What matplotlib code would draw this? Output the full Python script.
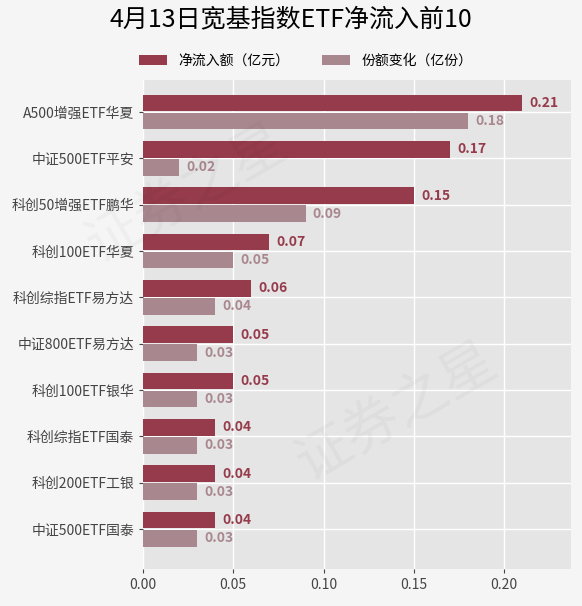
import matplotlib.pyplot as plt
import numpy as np

plt.rcParams['font.family'] = ['Noto Sans CJK SC', 'DejaVu Sans']

funds = ["A500增强ETF华夏", "中证500ETF平安", "科创50增强ETF鹏华", "科创100ETF华夏",
         "科创综指ETF易方达", "中证800ETF易方达", "科创100ETF银华", "科创综指ETF国泰",
         "科创200ETF工银", "中证500ETF国泰"]
net_inflow = [0.21, 0.17, 0.15, 0.07, 0.06, 0.05, 0.05, 0.04, 0.04, 0.04]
share_change = [0.18, 0.02, 0.09, 0.05, 0.04, 0.03, 0.03, 0.03, 0.03, 0.03]

c_dark = "#953b4b"
c_light = "#a9878f"

fig = plt.figure(figsize=(5.82, 6.06), dpi=100)
fig.patch.set_facecolor("#f5f5f5")
ax = fig.add_axes([143/582, 37/606, 428/582, 489/606])
ax.set_facecolor("#e5e5e5")

# faint watermark
for (x, y) in [(0.32, 0.68), (0.68, 0.32)]:
    fig.text(x, y, "证券之星", fontsize=40, color="#000000", alpha=0.03,
             rotation=30, ha="center", va="center", zorder=0)

y = np.arange(len(funds))
h = 0.36
off = 0.195
ax.barh(y - off, net_inflow, height=h, color=c_dark, label="净流入额（亿元）", zorder=3)
ax.barh(y + off, share_change, height=h, color=c_light, label="份额变化（亿份）", zorder=3)

for yi, v in zip(y, net_inflow):
    ax.text(v + 0.004, yi - off, "%.2f" % v, color=c_dark, fontsize=10, fontweight="bold",
            va="center", ha="left", zorder=4)
for yi, v in zip(y, share_change):
    ax.text(v + 0.004, yi + off, "%.2f" % v, color=c_light, fontsize=10, fontweight="bold",
            va="center", ha="left", zorder=4)

ax.set_yticks(y)
ax.set_yticklabels(funds, fontsize=10, color="#444444")
ax.set_xticks([0, 0.05, 0.10, 0.15, 0.20])
ax.set_xticklabels(["0.00", "0.05", "0.10", "0.15", "0.20"], fontsize=10, color="#444444")
ax.set_xlim(0, 0.237)
ax.set_ylim(9.86, -0.69)

ax.grid(color="white", linewidth=1, zorder=0)
ax.set_axisbelow(True)
for s in ax.spines.values():
    s.set_visible(False)
ax.tick_params(axis="both", length=3, color="#444444")

fig.suptitle("4月13日宽基指数ETF净流入前10", fontsize=18, y=0.99)
ax.legend(loc="lower center", bbox_to_anchor=(0.38, 1.0), ncol=2, frameon=False,
          fontsize=10, handlelength=2.0, handleheight=0.7, handletextpad=0.8,
          columnspacing=2.4)

fig.savefig("out.png", dpi=100, facecolor=fig.get_facecolor())
